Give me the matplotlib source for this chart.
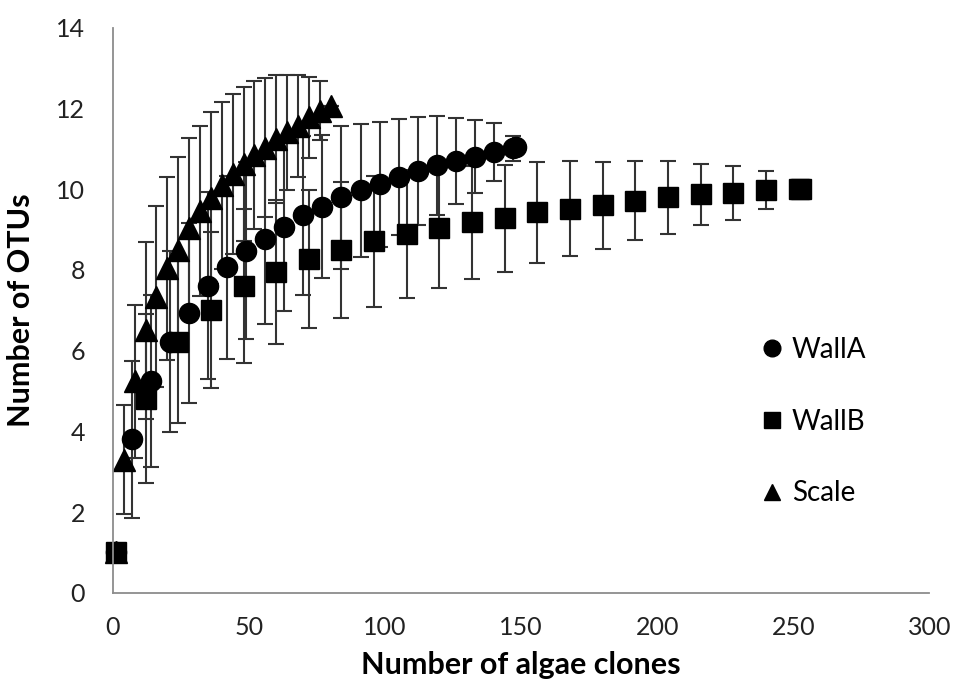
import matplotlib
matplotlib.use("Agg")
import matplotlib.pyplot as plt
from matplotlib.lines import Line2D

plt.rcParams['font.family'] = ['Lato', 'DejaVu Sans']

# rarefaction data
wallA_x = [1, 7, 14, 21, 28, 35, 42, 49, 56, 63, 70, 77, 84, 91, 98, 105, 112, 119, 126, 133, 140, 147, 148]
wallA_y = [1, 3.80, 5.26, 6.22, 6.94, 7.61, 8.07, 8.48, 8.76, 9.07, 9.35, 9.57, 9.80, 9.97, 10.12,
           10.30, 10.45, 10.59, 10.70, 10.81, 10.93, 11.02, 11.04]
wallA_err = [0, 1.94, 2.13, 2.24, 2.23, 2.32, 2.27, 2.20, 2.10, 2.09, 1.97, 1.78, 1.77, 1.64, 1.54,
             1.43, 1.33, 1.22, 1.07, 0.91, 0.72, 0.31, 0]

wallB_x = [1, 12, 24, 36, 48, 60, 72, 84, 96, 108, 120, 132, 144, 156, 168, 180, 192, 204, 216,
           228, 240, 252, 253]
wallB_y = [1, 4.81, 6.22, 7.0, 7.6, 7.95, 8.27, 8.50, 8.71, 8.89, 9.04, 9.18, 9.28, 9.43, 9.52,
           9.60, 9.72, 9.80, 9.87, 9.91, 9.98, 10.0, 10.0]
wallB_err = [0, 2.1, 2.02, 1.93, 1.9, 1.78, 1.7, 1.68, 1.63, 1.59, 1.49, 1.40, 1.32, 1.25, 1.18,
             1.07, 0.98, 0.9, 0.75, 0.66, 0.47, 0.2, 0]

scale_x = [1, 4, 8, 12, 16, 20, 24, 28, 32, 36, 40, 44, 48, 52, 56, 60, 64, 68, 72, 76, 80]
scale_y = [1, 3.30, 5.24, 6.50, 7.34, 8.04, 8.50, 9.04, 9.46, 9.79, 10.10, 10.37, 10.62, 10.85,
           11.03, 11.24, 11.41, 11.57, 11.78, 11.95, 12.07]
scale_err = [0, 1.35, 1.89, 2.19, 2.24, 2.26, 2.30, 2.22, 2.11, 2.13, 2.07, 1.98, 1.91, 1.83,
             1.72, 1.59, 1.42, 1.26, 1.0, 0.73, 0]

fig = plt.figure(figsize=(9.57, 6.95), dpi=100)
ax = fig.add_axes([0.118, 0.147, 0.853, 0.813])

ebar = dict(ecolor='#333333', elinewidth=1.5, capsize=5.5, capthick=1.5, linestyle='none', clip_on=False)
for x, y, e, m, ms in [(wallA_x, wallA_y, wallA_err, 'o', 14.5),
                       (wallB_x, wallB_y, wallB_err, 's', 15),
                       (scale_x, scale_y, scale_err, '^', 16)]:
    res = ax.errorbar(x, y, yerr=e, fmt=m, ms=ms, color='black', **ebar)
    res[0].set_clip_on(False)

ax.set_xlim(0, 300)
ax.set_ylim(0, 14)
ax.set_xticks(range(0, 301, 50))
ax.set_yticks(range(0, 15, 2))
ax.tick_params(length=0, labelsize=18, colors='#222222')
ax.tick_params(axis='x', pad=17)
ax.tick_params(axis='y', pad=20)
for s in ['top', 'right']:
    ax.spines[s].set_visible(False)
for s in ['left', 'bottom']:
    ax.spines[s].set_color('#8c8c8c')
    ax.spines[s].set_linewidth(1.3)

ax.set_xlabel('Number of algae clones', fontsize=22, fontweight='bold', va='center')
ax.set_ylabel('Number of OTUs', fontsize=22, fontweight='bold', va='center')
ax.xaxis.set_label_coords(0.5, -0.127)
ax.yaxis.set_label_coords(-0.112, 0.5)

handles = [Line2D([], [], marker='o', ls='none', color='black', ms=12),
           Line2D([], [], marker='s', ls='none', color='black', ms=12),
           Line2D([], [], marker='^', ls='none', color='black', ms=12)]
fig.legend(handles, ['WallA', 'WallB', 'Scale'], loc='center left', bbox_to_anchor=(0.769, 0.3935),
           frameon=False, fontsize=20, handlelength=0.8, handletextpad=0.32, labelspacing=1.65)

fig.savefig('out.png', dpi=100)
